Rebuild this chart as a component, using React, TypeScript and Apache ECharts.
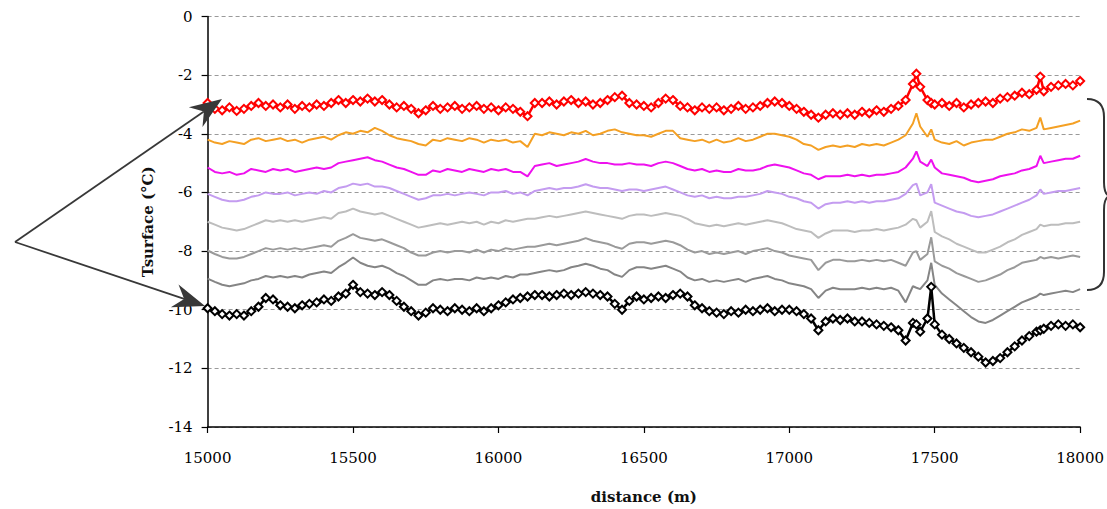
import React, { useEffect, useRef } from "react";
import * as echarts from "echarts";

// distance along the profile (m)
const distance = [
  15000, 15025, 15050, 15075, 15100, 15125, 15150, 15175, 15200, 15225,
  15250, 15275, 15300, 15325, 15350, 15375, 15400, 15425, 15450, 15475,
  15500, 15525, 15550, 15575, 15600, 15625, 15650, 15675, 15700, 15725,
  15750, 15775, 15800, 15825, 15850, 15875, 15900, 15925, 15950, 15975,
  16000, 16025, 16050, 16075, 16100, 16125, 16150, 16175, 16200, 16225,
  16250, 16275, 16300, 16325, 16350, 16375, 16400, 16425, 16450, 16475,
  16500, 16525, 16550, 16575, 16600, 16625, 16650, 16675, 16700, 16725,
  16750, 16775, 16800, 16825, 16850, 16875, 16900, 16925, 16950, 16975,
  17000, 17025, 17050, 17075, 17100, 17125, 17150, 17175, 17200, 17225,
  17250, 17275, 17300, 17325, 17350, 17375, 17400, 17425, 17437, 17450,
  17475, 17488, 17500, 17525, 17550, 17575, 17600, 17625, 17650, 17675,
  17700, 17725, 17750, 17775, 17800, 17825, 17850, 17863, 17875, 17900,
  17925, 17950, 17975, 18000,
];

const tRed = [
  -2.95, -3.15, -3.2, -3.1, -3.22, -3.15, -3.05, -2.95, -3.05, -3.0,
  -3.1, -3.0, -3.15, -3.05, -3.1, -3.0, -3.05, -2.95, -2.85, -2.95,
  -2.85, -2.9, -2.8, -2.9, -2.85, -3.0, -3.1, -3.05, -3.15, -3.3,
  -3.2, -3.05, -3.15, -3.1, -3.05, -3.15, -3.1, -3.05, -3.15, -3.1,
  -3.2, -3.1, -3.15, -3.25, -3.4, -2.95, -2.95, -2.9, -3.0, -2.9,
  -2.85, -2.95, -2.9, -3.0, -2.95, -2.85, -2.75, -2.7, -2.95, -3.0,
  -3.05, -3.1, -2.95, -2.8, -2.85, -3.05, -3.1, -3.2, -3.1, -3.15,
  -3.1, -3.2, -3.15, -3.05, -3.15, -3.1, -3.05, -2.95, -2.9, -2.95,
  -3.05, -3.15, -3.25, -3.35, -3.45, -3.35, -3.3, -3.35, -3.3, -3.35,
  -3.25, -3.3, -3.2, -3.25, -3.15, -3.05, -2.85, -2.3, -1.95, -2.4,
  -2.85, -2.95, -3.0, -2.95, -3.05, -2.95, -3.1, -3.0, -2.95, -2.9,
  -2.95, -2.8, -2.75, -2.7, -2.6, -2.65, -2.5, -2.05, -2.55, -2.4,
  -2.35, -2.3, -2.35, -2.2,
];

const tOrange = [
  -4.2, -4.3, -4.35, -4.25, -4.3, -4.35, -4.2, -4.15, -4.25, -4.2,
  -4.15, -4.25, -4.2, -4.3, -4.2, -4.15, -4.1, -4.2, -4.05, -3.95,
  -4.0, -3.9, -3.95, -3.8, -3.9, -4.05, -4.15, -4.2, -4.25, -4.35,
  -4.4, -4.2, -4.25, -4.15, -4.2, -4.25, -4.15, -4.2, -4.3, -4.2,
  -4.25, -4.2, -4.3, -4.25, -4.45, -4.0, -4.05, -3.95, -4.0, -4.05,
  -3.95, -4.0, -3.9, -4.05, -4.0, -3.9, -3.85, -3.95, -4.0, -4.05,
  -4.05, -4.1, -4.0, -3.9, -3.9, -4.15, -4.2, -4.25, -4.2, -4.3,
  -4.2, -4.3, -4.25, -4.15, -4.25, -4.2, -4.1, -4.0, -4.0, -4.05,
  -4.1, -4.2, -4.35, -4.4, -4.55, -4.45, -4.4, -4.45, -4.4, -4.45,
  -4.35, -4.4, -4.35, -4.4, -4.3, -4.2, -4.05, -3.65, -3.3, -3.75,
  -4.1, -3.85, -4.2, -4.3, -4.35, -4.25, -4.4, -4.3, -4.25, -4.2,
  -4.2, -4.1, -4.0, -3.95, -3.85, -3.9, -3.8, -3.45, -3.85, -3.8,
  -3.75, -3.7, -3.65, -3.55,
];

const tMagenta = [
  -5.15, -5.3, -5.35, -5.3, -5.4, -5.35, -5.2, -5.25, -5.3, -5.2,
  -5.25, -5.2, -5.3, -5.25, -5.2, -5.15, -5.2, -5.15, -5.0, -4.95,
  -4.9, -4.85, -4.8, -4.9, -4.95, -5.05, -5.15, -5.2, -5.3, -5.4,
  -5.4, -5.25, -5.3, -5.2, -5.25, -5.3, -5.2, -5.25, -5.3, -5.2,
  -5.25, -5.2, -5.3, -5.3, -5.45, -5.1, -5.05, -5.0, -5.1, -5.05,
  -5.0, -4.95, -4.86, -4.95, -5.0, -5.0, -5.05, -5.05, -5.0, -5.05,
  -5.05, -5.1, -5.0, -4.95, -5.0, -5.1, -5.2, -5.25, -5.2, -5.3,
  -5.25, -5.3, -5.3, -5.2, -5.25, -5.25, -5.2, -5.1, -5.05, -5.1,
  -5.15, -5.25, -5.35, -5.4, -5.55, -5.45, -5.45, -5.45, -5.4, -5.45,
  -5.4, -5.45, -5.4, -5.4, -5.35, -5.3, -5.15, -4.85, -4.6, -4.95,
  -5.1, -4.88, -5.15, -5.35, -5.4, -5.45, -5.5, -5.6, -5.65, -5.6,
  -5.55, -5.45, -5.4, -5.35, -5.25, -5.2, -5.1, -4.75, -5.0, -4.95,
  -4.9, -4.85, -4.85, -4.75,
];

const tLavender = [
  -6.05, -6.15, -6.25, -6.3, -6.3, -6.25, -6.15, -6.1, -6.0, -6.05,
  -6.05, -6.0, -6.1, -6.05, -6.0, -6.05, -5.95, -6.0, -5.85, -5.8,
  -5.7, -5.75, -5.7, -5.8, -5.8, -5.85, -5.95, -6.05, -6.15, -6.25,
  -6.2, -6.1, -6.1, -6.05, -6.1, -6.05, -6.0, -6.05, -6.1, -6.0,
  -6.0, -5.95, -6.05, -6.0, -6.1, -5.95, -5.9, -5.85, -5.9, -5.85,
  -5.85, -5.8, -5.72, -5.8, -5.85, -5.85, -5.9, -5.95, -5.9, -5.9,
  -5.95, -5.9, -5.85, -5.8, -5.9, -6.0, -6.1, -6.15, -6.1, -6.2,
  -6.15, -6.2, -6.2, -6.15, -6.15, -6.1, -6.05, -5.95, -6.0, -6.05,
  -6.15, -6.2, -6.3, -6.35, -6.55, -6.4, -6.35, -6.35, -6.3, -6.35,
  -6.3, -6.35, -6.3, -6.3, -6.25, -6.2, -6.05, -5.75, -5.7, -6.1,
  -6.0, -5.72, -6.35, -6.45, -6.55, -6.65, -6.7, -6.8, -6.85, -6.8,
  -6.75, -6.65, -6.55, -6.45, -6.35, -6.25, -6.1, -5.9, -6.05, -6.0,
  -5.95, -5.95, -5.9, -5.85,
];

const tLightGray = [
  -7.0, -7.1, -7.2, -7.25, -7.3, -7.25, -7.15, -7.05, -6.95, -7.0,
  -6.95, -7.0, -6.95, -7.0, -6.95, -6.9, -6.85, -6.9, -6.7, -6.65,
  -6.55, -6.65, -6.7, -6.75, -6.7, -6.8, -6.9, -7.0, -7.1, -7.2,
  -7.15, -7.1, -7.05, -7.1, -7.05, -7.0, -7.05, -7.0, -7.1, -7.0,
  -7.05, -6.95, -7.0, -6.95, -6.9, -6.9, -6.85, -6.8, -6.85, -6.8,
  -6.75, -6.7, -6.65, -6.7, -6.75, -6.8, -6.85, -6.9, -6.8, -6.75,
  -6.75, -6.8, -6.75, -6.7, -6.75, -6.8, -6.9, -7.05, -7.1, -7.15,
  -7.1, -7.15, -7.1, -7.05, -7.1, -7.05, -7.0, -6.95, -7.0, -7.05,
  -7.15, -7.25, -7.3, -7.35, -7.55, -7.4, -7.3, -7.3, -7.3, -7.35,
  -7.3, -7.3, -7.25, -7.3, -7.25, -7.2, -7.1, -6.9, -6.95, -7.2,
  -7.0, -6.64, -7.35, -7.5, -7.6, -7.75, -7.85, -7.95, -8.05, -8.05,
  -7.95, -7.85, -7.7, -7.6, -7.45, -7.35, -7.25, -7.1, -7.15, -7.1,
  -7.1, -7.05, -7.05, -7.0,
];

const tGray = [
  -7.98, -8.1, -8.2, -8.25, -8.25, -8.2, -8.1, -8.0, -7.9, -7.95,
  -7.9, -7.95, -7.9, -7.95, -7.9, -7.85, -7.8, -7.85, -7.65, -7.55,
  -7.42, -7.55, -7.6, -7.65, -7.6, -7.7, -7.8, -7.9, -8.05, -8.15,
  -8.15, -8.05, -8.0, -8.05, -8.0, -8.0, -8.05, -7.95, -8.05, -7.95,
  -8.0, -7.9, -7.95, -7.9, -7.85, -7.85, -7.8, -7.75, -7.8, -7.75,
  -7.7, -7.65, -7.56, -7.65, -7.7, -7.75, -7.85, -7.92, -7.75, -7.7,
  -7.7, -7.75, -7.7, -7.65, -7.7, -7.8, -7.95, -8.05, -8.0, -8.1,
  -8.05, -8.1, -8.05, -8.0, -8.1, -8.0, -7.95, -7.9, -8.0, -8.05,
  -8.15, -8.2, -8.25, -8.3, -8.65, -8.4, -8.3, -8.3, -8.35, -8.35,
  -8.3, -8.35, -8.3, -8.35, -8.3, -8.4, -8.5, -8.05, -8.0, -8.3,
  -8.1, -7.53, -8.35, -8.5, -8.6, -8.75, -8.85, -8.95, -9.05, -9.0,
  -8.9, -8.8, -8.65, -8.55, -8.4, -8.35, -8.3, -8.2, -8.25, -8.2,
  -8.25, -8.2, -8.15, -8.2,
];

const tDarkGray = [
  -8.94, -9.05, -9.15, -9.2, -9.15, -9.1, -9.0, -8.95, -8.85, -8.9,
  -8.85, -8.9, -8.85, -8.9, -8.8, -8.75, -8.7, -8.75, -8.55, -8.4,
  -8.22, -8.4, -8.5, -8.55, -8.5, -8.6, -8.75, -8.85, -9.0, -9.15,
  -9.15, -9.0, -8.95, -9.0, -8.95, -8.95, -9.0, -8.9, -8.95, -8.9,
  -8.95, -8.85, -8.9, -8.8, -8.8, -8.75, -8.7, -8.65, -8.7, -8.65,
  -8.55, -8.5, -8.43, -8.5, -8.6, -8.65, -8.8, -8.88, -8.65, -8.55,
  -8.55, -8.6, -8.55, -8.5, -8.6, -8.7, -8.9, -9.0, -8.95, -9.05,
  -9.0, -9.05, -9.0, -8.95, -9.05, -8.95, -8.9, -8.85, -8.95, -9.0,
  -9.1, -9.15, -9.2, -9.3, -9.6, -9.35, -9.25, -9.3, -9.3, -9.3,
  -9.25, -9.3, -9.25, -9.3, -9.25, -9.35, -9.75, -9.2, -9.25, -9.3,
  -9.0, -8.4, -9.15, -9.45, -9.65, -9.85, -10.05, -10.25, -10.4, -10.45,
  -10.35, -10.2, -10.05, -9.9, -9.75, -9.65, -9.55, -9.45, -9.5, -9.45,
  -9.4, -9.35, -9.4, -9.3,
];

const tBlack = [
  -9.95, -10.05, -10.15, -10.2, -10.15, -10.2, -10.05, -9.9, -9.6, -9.65,
  -9.85, -9.9, -9.95, -9.85, -9.8, -9.75, -9.65, -9.7, -9.55, -9.45,
  -9.15, -9.4, -9.45, -9.5, -9.4, -9.5, -9.7, -9.9, -10.05, -10.2,
  -10.1, -9.95, -10.0, -10.05, -9.95, -10.0, -10.05, -9.95, -10.05, -9.95,
  -9.85, -9.75, -9.65, -9.6, -9.55, -9.5, -9.5, -9.55, -9.5, -9.45,
  -9.5, -9.45, -9.4, -9.45, -9.5, -9.55, -9.8, -10.0, -9.7, -9.55,
  -9.65, -9.6, -9.55, -9.6, -9.5, -9.45, -9.55, -9.85, -9.95, -10.05,
  -10.1, -10.15, -10.05, -10.1, -10.0, -10.05, -10.0, -9.95, -10.05, -10.0,
  -10.0, -10.05, -10.15, -10.3, -10.7, -10.4, -10.3, -10.35, -10.3, -10.4,
  -10.4, -10.45, -10.5, -10.55, -10.6, -10.7, -11.05, -10.45, -10.5, -10.75,
  -10.3, -9.22, -10.5, -10.85, -11.0, -11.15, -11.3, -11.45, -11.6, -11.8,
  -11.75, -11.65, -11.45, -11.25, -11.05, -10.9, -10.75, -10.7, -10.65, -10.55,
  -10.5, -10.55, -10.5, -10.6,
];

const xTicks = { min: 15000, max: 18000, step: 500 };
const yTicks = { min: -14, max: 0, step: 2 };

const lineDefs = [
  { values: tRed, color: "#ff0000", markers: true },
  { values: tOrange, color: "#f4a024", markers: false },
  { values: tMagenta, color: "#ee11ee", markers: false },
  { values: tLavender, color: "#c49cf0", markers: false },
  { values: tLightGray, color: "#bdbdbd", markers: false },
  { values: tGray, color: "#9a9a9a", markers: false },
  { values: tDarkGray, color: "#858585", markers: false },
  { values: tBlack, color: "#000000", markers: true },
];

const FONT = "'DejaVu Serif', 'Liberation Serif', serif";

function arrow(sx: number, sy: number, tx: number, ty: number) {
  const dx = tx - sx;
  const dy = ty - sy;
  const L = Math.hypot(dx, dy);
  const ux = dx / L;
  const uy = dy / L;
  const nx = -uy;
  const ny = ux;
  const hl = 32;
  const hw = 12;
  const notch = 22;
  const bx = tx - ux * hl;
  const by = ty - uy * hl;
  const qx = tx - ux * notch;
  const qy = ty - uy * notch;
  return [
    {
      type: "line",
      shape: { x1: sx, y1: sy, x2: qx, y2: qy },
      style: { stroke: "#383838", lineWidth: 1.8 },
      z: 100,
    },
    {
      type: "polygon",
      shape: {
        points: [
          [tx, ty],
          [bx + nx * hw, by + ny * hw],
          [qx, qy],
          [bx - nx * hw, by - ny * hw],
        ],
      },
      style: { fill: "#383838" },
      z: 100,
    },
  ];
}

export default function App() {
  const ref = useRef<HTMLDivElement>(null);

  useEffect(() => {
    if (!ref.current) return;
    const chart = echarts.init(ref.current, null, { renderer: "svg" });

    const series = lineDefs.map((s, k) => ({
      type: "line",
      data: distance.map((d, i) => [d, s.values[i]]),
      showSymbol: s.markers,
      symbol: "emptyDiamond",
      symbolSize: 8,
      lineStyle: { color: s.color, width: s.markers ? 2.5 : 2 },
      itemStyle: { color: s.color, borderWidth: 1.5 },
      emphasis: { disabled: true },
      silent: true,
      z: 2 + k,
    }));

    const braceStyle = { stroke: "#333", lineWidth: 2, fill: "none" };
    const brace = [
      { type: "bezierCurve", shape: { x1: 1087, y1: 99, x2: 1104, y2: 117, cpx1: 1104, cpy1: 99 }, style: braceStyle },
      { type: "line", shape: { x1: 1104, y1: 117, x2: 1104, y2: 182 }, style: braceStyle },
      { type: "bezierCurve", shape: { x1: 1104, y1: 182, x2: 1111, y2: 196, cpx1: 1104, cpy1: 196 }, style: braceStyle },
      { type: "bezierCurve", shape: { x1: 1111, y1: 196, x2: 1104, y2: 210, cpx1: 1104, cpy1: 196 }, style: braceStyle },
      { type: "line", shape: { x1: 1104, y1: 210, x2: 1104, y2: 272 }, style: braceStyle },
      { type: "bezierCurve", shape: { x1: 1104, y1: 272, x2: 1087, y2: 290, cpx1: 1104, cpy1: 290 }, style: braceStyle },
    ].map((e) => ({ ...e, z: 100 }));

    chart.setOption({
      animation: false,
      backgroundColor: "#ffffff",
      grid: { left: 207.6, right: 24.4, top: 16.5, bottom: 80.3, containLabel: false },
      xAxis: {
        type: "value",
        min: xTicks.min,
        max: xTicks.max,
        interval: xTicks.step,
        name: "distance (m)",
        nameLocation: "middle",
        nameGap: 62,
        nameTextStyle: { fontFamily: FONT, fontSize: 15, fontWeight: "bold", color: "#111" },
        axisLine: { show: true, onZero: false, lineStyle: { color: "#000", width: 1.5 } },
        axisTick: { show: true, inside: false, length: 6, lineStyle: { color: "#000", width: 1.2 } },
        axisLabel: { fontFamily: FONT, fontSize: 15, color: "#000", margin: 23, formatter: (v: number) => String(v) },
        splitLine: { show: false },
      },
      yAxis: {
        type: "value",
        min: yTicks.min,
        max: yTicks.max,
        interval: yTicks.step,
        name: "Tsurface (°C)",
        nameLocation: "middle",
        nameRotate: 90,
        nameGap: 52,
        nameTextStyle: { fontFamily: FONT, fontSize: 15, fontWeight: "bold", color: "#111" },
        axisLine: { show: true, onZero: false, lineStyle: { color: "#000", width: 1.5 } },
        axisTick: { show: true, inside: false, length: 6, lineStyle: { color: "#000", width: 1.2 } },
        axisLabel: { fontFamily: FONT, fontSize: 15, color: "#000", margin: 15, formatter: (v: number) => String(v) },
        splitLine: { show: true, lineStyle: { color: "#9a9a9a", type: [4, 3], width: 1 } },
      },
      series,
      graphic: [...arrow(15, 242, 222, 99), ...arrow(15, 242, 205, 306), ...brace],
    });

    return () => chart.dispose();
  }, []);

  return (
    <div
      ref={ref}
      style={{ position: "fixed", left: 0, top: 0, width: 1107, height: 509, background: "#fff" }}
    />
  );
}
